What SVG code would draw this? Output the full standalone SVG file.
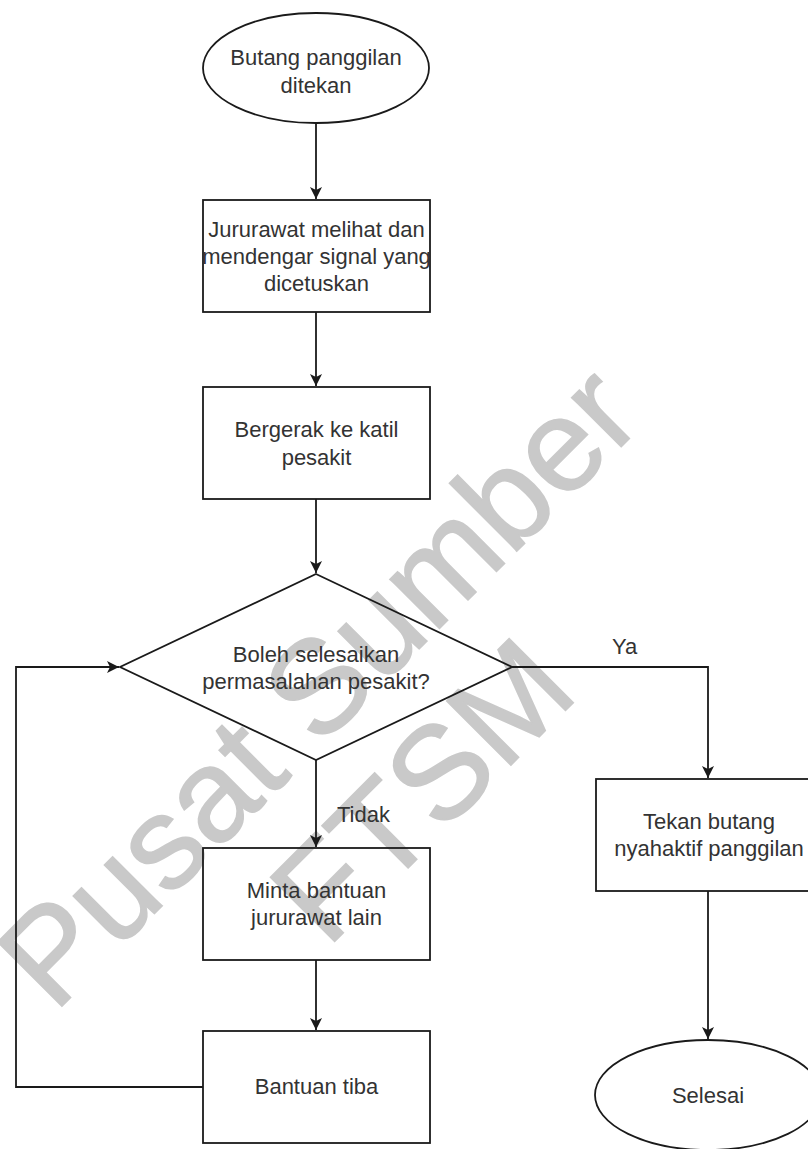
<svg xmlns="http://www.w3.org/2000/svg" width="808" height="1149" viewBox="0 0 808 1149">
<style>
.shape{fill:none;stroke:#1a1a1a;stroke-width:1.8}
.edge{fill:none;stroke:#1a1a1a;stroke-width:1.8}
.t{font-family:"Liberation Sans",Arial,sans-serif;font-size:22px;fill:#333333;text-anchor:middle}
.lbl{font-family:"Liberation Sans",Arial,sans-serif;font-size:22px;fill:#333333}
.wm{font-family:"Liberation Sans",Arial,sans-serif;font-size:132px;fill:#c9c9c9;stroke:#c9c9c9;stroke-width:1.5;text-anchor:middle}
</style>
<defs>
<marker id="arr" markerUnits="userSpaceOnUse" markerWidth="14" markerHeight="14" refX="12" refY="7" orient="auto">
<path d="M0,1 L12,7 L0,13 L3,7 Z" fill="#1a1a1a"/>
</marker>
</defs>
<rect width="808" height="1149" fill="#ffffff"/>
<g id="watermark" transform="translate(350,718) rotate(-45)">
<text class="wm" x="0" y="0">Pusat Sumber</text>
<text class="wm" x="0" y="147">FTSM</text>
</g>
<g id="connectors">
<path class="edge" d="M316,123 L316,199" marker-end="url(#arr)"/>
<path class="edge" d="M316,312 L316,386" marker-end="url(#arr)"/>
<path class="edge" d="M316,499 L316,573" marker-end="url(#arr)"/>
<path class="edge" d="M316,760 L316,847" marker-end="url(#arr)"/>
<path class="edge" d="M316,960 L316,1030" marker-end="url(#arr)"/>
<path class="edge" d="M203,1087 L16,1087 L16,667 L119,667" marker-end="url(#arr)"/>
<path class="edge" d="M512,667 L708,667 L708,778" marker-end="url(#arr)"/>
<path class="edge" d="M708,891 L708,1039" marker-end="url(#arr)"/>
<text class="lbl" x="337" y="822">Tidak</text>
<text class="lbl" x="612" y="654">Ya</text>
</g>
<g id="start">
<ellipse class="shape" cx="316" cy="68" rx="113" ry="55"/>
<text class="t" x="316" y="65">Butang panggilan</text>
<text class="t" x="316" y="93">ditekan</text>
</g>
<g id="lihat">
<rect class="shape" x="203" y="200" width="227" height="112"/>
<text class="t" x="316.5" y="237">Jururawat melihat dan</text>
<text class="t" x="316.5" y="264">mendengar signal yang</text>
<text class="t" x="316.5" y="291">dicetuskan</text>
</g>
<g id="gerak">
<rect class="shape" x="203" y="387" width="227" height="112"/>
<text class="t" x="316.5" y="437">Bergerak ke katil</text>
<text class="t" x="316.5" y="465">pesakit</text>
</g>
<g id="keputusan">
<path class="shape" d="M316,574 L512,667 L316,760 L120,667 Z"/>
<text class="t" x="316" y="662">Boleh selesaikan</text>
<text class="t" x="316" y="689">permasalahan pesakit?</text>
</g>
<g id="minta">
<rect class="shape" x="203" y="848" width="227" height="112"/>
<text class="t" x="316.5" y="898">Minta bantuan</text>
<text class="t" x="316.5" y="925">jururawat lain</text>
</g>
<g id="tiba">
<rect class="shape" x="203" y="1031" width="227" height="112"/>
<text class="t" x="316.5" y="1094">Bantuan tiba</text>
</g>
<g id="tekan">
<rect class="shape" x="596" y="779" width="227" height="112"/>
<text class="t" x="709" y="829">Tekan butang</text>
<text class="t" x="709" y="856">nyahaktif panggilan</text>
</g>
<g id="selesai">
<ellipse class="shape" cx="708" cy="1095" rx="113" ry="55"/>
<text class="t" x="708" y="1103">Selesai</text>
</g>
</svg>
